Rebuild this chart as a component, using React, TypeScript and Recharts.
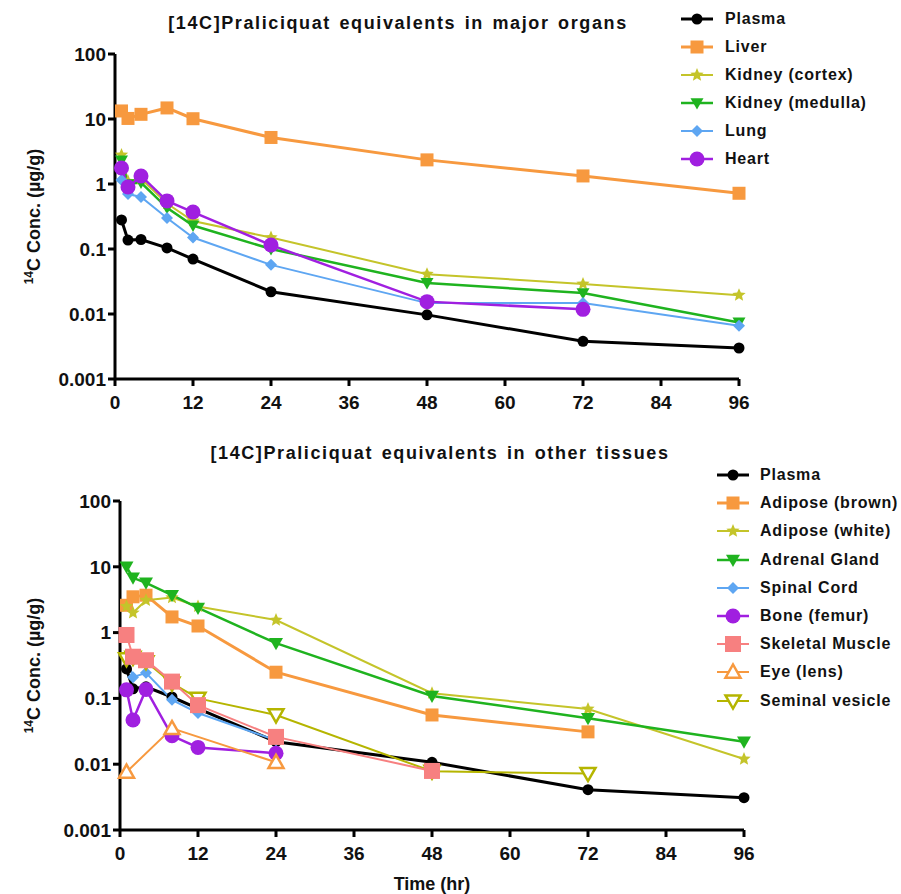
import React from 'react';
import { LineChart, Line, XAxis, YAxis } from 'recharts';

// sampling times (hr)
const times = [1, 2, 4, 8, 12, 24, 48, 72, 96];
const xTicks = [0, 12, 24, 36, 48, 60, 72, 84, 96];
const yTicks = [0.001, 0.01, 0.1, 1, 10, 100];

// major organs (µg/g)
const plasma = [0.28, 0.137, 0.14, 0.104, 0.07, 0.022, 0.0097, 0.0038, 0.003];
const liver = [13.3, 10.2, 11.8, 14.8, 10.1, 5.2, 2.35, 1.33, 0.72];
const kidneyCortex = [2.8, 1.1, 1.2, 0.5, 0.27, 0.15, 0.041, 0.029, 0.0195];
const kidneyMedulla = [2.3, 1.0, 1.05, 0.43, 0.23, 0.1, 0.03, 0.021, 0.0074];
const lung = [1.15, 0.7, 0.63, 0.3, 0.15, 0.057, 0.0147, 0.0147, 0.0066];
const heart = [1.76, 0.9, 1.33, 0.55, 0.37, 0.115, 0.0155, 0.0118, null];

// other tissues (µg/g)
const plasma2 = [0.28, 0.14, 0.15, 0.105, 0.07, 0.022, 0.0107, 0.0041, 0.0031];
const adiposeBrown = [2.6, 3.5, 3.7, 1.73, 1.26, 0.25, 0.056, 0.031, null];
const adiposeWhite = [2.5, 2.0, 3.1, 3.4, 2.5, 1.55, 0.12, 0.069, 0.012];
const adrenal = [10, 6.8, 5.7, 3.7, 2.37, 0.69, 0.109, 0.05, 0.022];
const spinalCord = [0.45, 0.21, 0.245, 0.095, 0.06, 0.023, null, null, null];
const bone = [0.135, 0.047, 0.137, 0.027, 0.018, 0.0147, null, null, null];
const skeletalMuscle = [0.92, 0.43, 0.38, 0.18, 0.079, 0.026, 0.0079, null, null];
const eyeLens = [0.0076, null, null, 0.035, null, 0.0107, null, null, null];
const seminalVesicle = [0.4, 0.42, 0.36, 0.17, 0.1, 0.056, 0.0078, 0.0072, null];

type Kind = 'circle' | 'square' | 'star' | 'triDown' | 'diamond' | 'triUpOpen' | 'triDownOpen';

interface SeriesDef {
  key: string;
  name: string;
  values: (number | null)[];
  color: string;
  kind: Kind;
  size: number;
  width: number;
  z: number;
}

const topSeries: SeriesDef[] = [
  { key: 'plasma', name: 'Plasma', values: plasma, color: '#000000', kind: 'circle', size: 5.5, width: 3, z: 0 },
  { key: 'liver', name: 'Liver', values: liver, color: '#F7993F', kind: 'square', size: 6.5, width: 3, z: 1 },
  { key: 'cortex', name: 'Kidney (cortex)', values: kidneyCortex, color: '#C4C42A', kind: 'star', size: 7, width: 2, z: 2 },
  { key: 'medulla', name: 'Kidney (medulla)', values: kidneyMedulla, color: '#1FB31F', kind: 'triDown', size: 6.5, width: 2.5, z: 3 },
  { key: 'lung', name: 'Lung', values: lung, color: '#5EA6F2', kind: 'diamond', size: 6, width: 2, z: 4 },
  { key: 'heart', name: 'Heart', values: heart, color: '#A01FE0', kind: 'circle', size: 7.5, width: 2.5, z: 5 },
];

const bottomSeries: SeriesDef[] = [
  { key: 'plasma', name: 'Plasma', values: plasma2, color: '#000000', kind: 'circle', size: 5.5, width: 3, z: 0 },
  { key: 'brown', name: 'Adipose (brown)', values: adiposeBrown, color: '#F7993F', kind: 'square', size: 6.5, width: 3, z: 1 },
  { key: 'white', name: 'Adipose (white)', values: adiposeWhite, color: '#C4C42A', kind: 'star', size: 7, width: 2, z: 2 },
  { key: 'adrenal', name: 'Adrenal Gland', values: adrenal, color: '#1FB31F', kind: 'triDown', size: 7, width: 2.5, z: 3 },
  { key: 'spinal', name: 'Spinal Cord', values: spinalCord, color: '#5EA6F2', kind: 'diamond', size: 6, width: 2, z: 4 },
  { key: 'bone', name: 'Bone (femur)', values: bone, color: '#A01FE0', kind: 'circle', size: 7.5, width: 2.5, z: 5 },
  { key: 'muscle', name: 'Skeletal Muscle', values: skeletalMuscle, color: '#F78080', kind: 'square', size: 8, width: 2, z: 8 },
  { key: 'eye', name: 'Eye (lens)', values: eyeLens, color: '#F7993F', kind: 'triUpOpen', size: 7.5, width: 2, z: 6 },
  { key: 'seminal', name: 'Seminal vesicle', values: seminalVesicle, color: '#B5B500', kind: 'triDownOpen', size: 7.5, width: 2, z: 7 },
];

const buildRows = (defs: SeriesDef[]) =>
  times.map((t, i) => {
    const row: Record<string, number | null> = { t };
    defs.forEach((d) => {
      row[d.key] = d.values[i];
    });
    return row;
  });

const FONT = '"Liberation Sans", Arial, sans-serif';

function Mark({ kind, cx, cy, color, size }: { kind: Kind; cx: number; cy: number; color: string; size: number }) {
  const s = size;
  switch (kind) {
    case 'circle':
      return <circle cx={cx} cy={cy} r={s} fill={color} />;
    case 'square':
      return <rect x={cx - s} y={cy - s} width={s * 2} height={s * 2} fill={color} />;
    case 'diamond':
      return <polygon points={`${cx},${cy - s} ${cx + s},${cy} ${cx},${cy + s} ${cx - s},${cy}`} fill={color} />;
    case 'triDown':
      return <polygon points={`${cx - s},${cy - s * 0.75} ${cx + s},${cy - s * 0.75} ${cx},${cy + s}`} fill={color} />;
    case 'triDownOpen':
      return (
        <polygon
          points={`${cx - s},${cy - s * 0.75} ${cx + s},${cy - s * 0.75} ${cx},${cy + s}`}
          fill="#fff"
          stroke={color}
          strokeWidth={2.5}
        />
      );
    case 'triUpOpen':
      return (
        <polygon
          points={`${cx - s},${cy + s * 0.75} ${cx + s},${cy + s * 0.75} ${cx},${cy - s}`}
          fill="#fff"
          stroke={color}
          strokeWidth={2.5}
        />
      );
    case 'star': {
      const pts: string[] = [];
      for (let k = 0; k < 10; k++) {
        const r = k % 2 === 0 ? s : s * 0.45;
        const a = -Math.PI / 2 + (k * Math.PI) / 5;
        pts.push(`${cx + r * Math.cos(a)},${cy + r * Math.sin(a)}`);
      }
      return <polygon points={pts.join(' ')} fill={color} />;
    }
  }
  return null;
}

function LegendBox({ defs, left, top, textLeft, step }: { defs: SeriesDef[]; left: number; top: number; textLeft: number; step: number }) {
  return (
    <div style={{ position: 'absolute', left: 0, top: 0 }}>
      {defs.map((d, i) => (
        <React.Fragment key={d.key}>
          <svg style={{ position: 'absolute', left: left, top: top + i * step - 10 }} width={32} height={20}>
            <line x1={0} y1={10} x2={32} y2={10} stroke={d.color} strokeWidth={d.width} />
            <Mark kind={d.kind} cx={16} cy={10} color={d.color} size={d.size} />
          </svg>
          <div
            style={{
              position: 'absolute',
              left: textLeft,
              top: top + i * step - 10,
              height: 20,
              lineHeight: '20px',
              fontFamily: FONT,
              fontWeight: 'bold',
              fontSize: 16,
              letterSpacing: 0.8,
              color: '#111',
              whiteSpace: 'nowrap',
            }}
          >
            {d.name}
          </div>
        </React.Fragment>
      ))}
    </div>
  );
}

const YLabel = (props: any) => {
  const vb = props.viewBox;
  const cy = vb.y + vb.height / 2;
  const x = 40;
  return (
    <text
      x={x}
      y={cy}
      transform={`rotate(-90 ${x} ${cy})`}
      textAnchor="middle"
      fontFamily={FONT}
      fontWeight="bold"
      fill="#111"
    >
      <tspan fontSize={12} dy={-7}>14</tspan>
      <tspan fontSize={18} dy={7}>C Conc. (µg/g)</tspan>
    </text>
  );
};

function Panel({ defs, width, height, margin, yWidth, title, titleX, titleY, showXLabel }: any) {
  const rows = buildRows(defs);
  const drawOrder = [...defs].sort((a: SeriesDef, b: SeriesDef) => a.z - b.z);
  const tickStyle = { fontFamily: FONT, fontWeight: 'bold', fontSize: 19, fill: '#111' };
  return (
    <LineChart width={width} height={height} data={rows} margin={margin}>
      <text
        x={titleX}
        y={titleY}
        textAnchor="middle"
        fontFamily={FONT}
        fontWeight="bold"
        fontSize={18}
        letterSpacing={1.6}
        wordSpacing={2}
        fill="#111"
      >
        {title}
      </text>
      <XAxis
        dataKey="t"
        type="number"
        domain={[0, 96]}
        ticks={xTicks}
        interval={0}
        axisLine={{ stroke: '#000', strokeWidth: 3 }}
        tickLine={{ stroke: '#000', strokeWidth: 3 }}
        tickSize={7}
        tickMargin={10}
        tick={tickStyle}
        height={showXLabel ? 60 : 34}
        label={
          showXLabel
            ? (p: any) => (
                <text
                  x={p.viewBox.x + p.viewBox.width / 2}
                  y={p.viewBox.y + 60}
                  textAnchor="middle"
                  fontFamily={FONT}
                  fontWeight="bold"
                  fontSize={18}
                  fill="#111"
                >
                  Time (hr)
                </text>
              )
            : undefined
        }
      />
      <YAxis
        scale="log"
        domain={[0.001, 100]}
        allowDataOverflow
        ticks={yTicks}
        interval={0}
        width={yWidth}
        axisLine={{ stroke: '#000', strokeWidth: 3 }}
        tickLine={{ stroke: '#000', strokeWidth: 3 }}
        tickSize={7}
        tickMargin={2}
        tick={tickStyle}
        tickFormatter={(v: number) => String(v)}
        label={<YLabel />}
      />
      {drawOrder.map((d: SeriesDef) => (
        <Line
          key={d.key}
          dataKey={d.key}
          name={d.name}
          stroke={d.color}
          strokeWidth={d.width}
          connectNulls
          isAnimationActive={false}
          dot={(p: any) => {
            const k = `${d.key}-${p.index}`;
            if (p.value == null || p.cy == null) return <g key={k} />;
            return (
              <g key={k}>
                <Mark kind={d.kind} cx={p.cx} cy={p.cy} color={d.color} size={d.size} />
              </g>
            );
          }}
          activeDot={false}
        />
      ))}
    </LineChart>
  );
}

export default function App() {
  return (
    <div style={{ position: 'absolute', left: 0, top: 0, width: 901, height: 894, background: '#fff', overflow: 'hidden' }}>
      <div style={{ position: 'absolute', left: 0, top: 0 }}>
        <Panel
          defs={topSeries}
          width={901}
          height={430}
          margin={{ top: 54, right: 162, bottom: 17, left: 0 }}
          yWidth={115}
          title="[14C]Praliciquat equivalents in major organs"
          titleX={398}
          titleY={29}
          showXLabel={false}
        />
      </div>
      <div style={{ position: 'absolute', left: 0, top: 440 }}>
        <Panel
          defs={bottomSeries}
          width={901}
          height={454}
          margin={{ top: 61, right: 157, bottom: 4, left: 0 }}
          yWidth={120}
          title="[14C]Praliciquat equivalents in other tissues"
          titleX={440}
          titleY={19}
          showXLabel={true}
        />
      </div>
      <LegendBox defs={topSeries} left={681} top={19} textLeft={725} step={28} />
      <LegendBox defs={bottomSeries} left={717} top={475} textLeft={760} step={28.2} />
    </div>
  );
}
